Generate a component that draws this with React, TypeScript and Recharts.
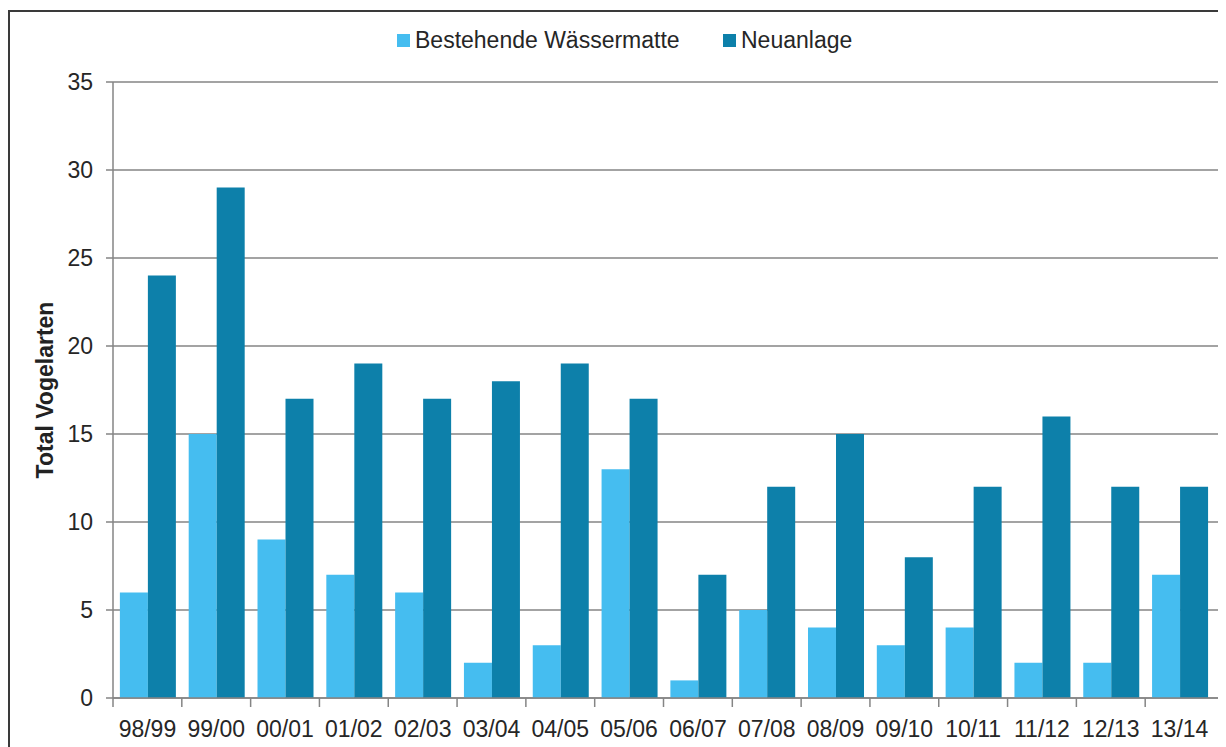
import React from 'react'
import { BarChart, Bar, XAxis, YAxis, CartesianGrid } from 'recharts'

const seasons = [
  '98/99', '99/00', '00/01', '01/02', '02/03', '03/04', '04/05', '05/06',
  '06/07', '07/08', '08/09', '09/10', '10/11', '11/12', '12/13', '13/14',
]
const bestehende = [6, 15, 9, 7, 6, 2, 3, 13, 1, 5, 4, 3, 4, 2, 2, 7]
const neuanlage = [24, 29, 17, 19, 17, 18, 19, 17, 7, 12, 15, 8, 12, 16, 12, 12]
const yTicks = [0, 5, 10, 15, 20, 25, 30, 35]

const data = seasons.map((s, i) => ({
  season: s,
  bestehende: bestehende[i],
  neuanlage: neuanlage[i],
}))

const LIGHT = '#45bdf0'
const DARK = '#0d80aa'
const GRID = '#858585'
const TEXT = '#262626'
const FONT = '"Liberation Sans", Arial, sans-serif'

const CHART_W = 1240
const CHART_H = 740
const MARGIN = { top: 70, right: 0, left: 0, bottom: 0 }
const Y_W = 103
const X_H = 54
const PAD_R = 36
// width of one season band, used to put tick marks between the seasons
const BAND = (CHART_W - MARGIN.left - MARGIN.right - Y_W - PAD_R) / seasons.length

const SeasonTick = (props: any) => {
  const { x, y, payload } = props
  const left = x - BAND / 2
  return (
    <g>
      <line x1={left} y1={y} x2={left} y2={y + 9} stroke={GRID} strokeWidth={1.5} />
      <text x={x} y={y + 39} textAnchor="middle" fill={TEXT} fontSize={23} fontFamily={FONT}>
        {payload.value}
      </text>
    </g>
  )
}

const YLabel = () => {
  const cy = MARGIN.top + (CHART_H - MARGIN.top - MARGIN.bottom - X_H) / 2
  const cx = 35
  return (
    <text
      x={cx}
      y={cy}
      transform={`rotate(-90 ${cx} ${cy})`}
      textAnchor="middle"
      dominantBaseline="central"
      fill="#222"
      fontSize={23}
      fontWeight="bold"
      fontFamily={FONT}
    >
      Total Vogelarten
    </text>
  )
}

const legendItems = [
  { label: 'Bestehende Wässermatte', color: LIGHT, left: 387, textLeft: 405 },
  { label: 'Neuanlage', color: DARK, left: 713, textLeft: 731 },
]

export default function App() {
  return (
    <div style={{ width: 1218, height: 739, overflow: 'hidden' }}>
      <style>{'html,body{overflow:hidden}'}</style>
      <div
        style={{
          position: 'relative',
          marginTop: 2,
          borderTop: '2px solid #3a3a3a',
          borderLeft: '2px solid #3a3a3a',
          width: 1300,
          height: 760,
          background: '#fff',
        }}
      >
        {legendItems.map((it) => (
          <React.Fragment key={it.label}>
            <div
              style={{
                position: 'absolute',
                left: it.left,
                top: 22,
                width: 13,
                height: 13,
                background: it.color,
              }}
            />
            <div
              style={{
                position: 'absolute',
                left: it.textLeft,
                top: 15,
                fontFamily: FONT,
                fontSize: 23,
                lineHeight: '27px',
                color: TEXT,
                whiteSpace: 'nowrap',
              }}
            >
              {it.label}
            </div>
          </React.Fragment>
        ))}
        <BarChart
          width={CHART_W}
          height={CHART_H}
          data={data}
          margin={MARGIN}
          barCategoryGap="10%"
          barGap={0}
        >
          <CartesianGrid vertical={false} stroke={GRID} strokeWidth={1.5} />
          <XAxis
            dataKey="season"
            height={X_H}
            padding={{ left: 0, right: PAD_R }}
            axisLine={{ stroke: GRID, strokeWidth: 1.5 }}
            tickLine={false}
            tickSize={0}
            tickMargin={0}
            interval={0}
            tick={<SeasonTick />}
          />
          <YAxis
            width={Y_W}
            domain={[0, 35]}
            ticks={yTicks}
            interval={0}
            axisLine={{ stroke: GRID, strokeWidth: 1.5 }}
            tickLine={{ stroke: GRID, strokeWidth: 1.5 }}
            tickSize={7}
            tickMargin={13}
            tick={{ fill: TEXT, fontSize: 23, fontFamily: FONT }}
            label={<YLabel />}
          />
          <Bar dataKey="bestehende" fill={LIGHT} isAnimationActive={false} />
          <Bar dataKey="neuanlage" fill={DARK} isAnimationActive={false} />
        </BarChart>
      </div>
    </div>
  )
}
